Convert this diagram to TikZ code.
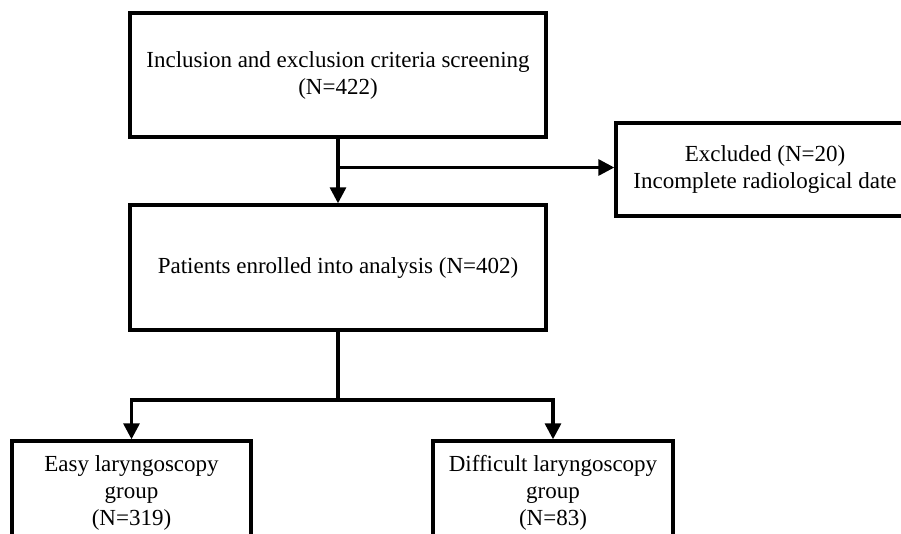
\documentclass[tikz,border=0pt]{standalone}
\usepackage{fontspec}
\setmainfont{Liberation Serif}
\usetikzlibrary{arrows.meta}
\begin{document}
\begin{tikzpicture}[x=1pt,y=-1pt,
  box/.style={draw,line width=3.4pt,align=center,inner sep=0pt,
    font=\fontsize{23}{27}\selectfont},
  conn/.style={line width=3.2pt},
  arr/.style={conn,-{Triangle[length=16pt,width=16pt]}}]
\useasboundingbox (0,0) rectangle (901,533);
\clip (0,0) rectangle (901,533);
\node[box,minimum width=416pt,minimum height=124pt] (screen) at (338,75)
  {Inclusion and exclusion criteria screening\\(N=422)};
\node[box,minimum width=416pt,minimum height=125pt] (enrol) at (338,267.5)
  {Patients enrolled into analysis (N=402)};
\node[box,minimum width=298pt,minimum height=93pt] (excl) at (765,169.5)
  {Excluded (N=20)\\Incomplete radiological date};
\node[box,minimum width=239pt,minimum height=104pt] (easy) at (131.5,493)
  {Easy laryngoscopy\\group\\(N=319)};
\node[box,minimum width=240pt,minimum height=104pt] (diff) at (553,493)
  {Difficult laryngoscopy\\group\\(N=83)};
\coordinate (j1) at (338,167.5);
\coordinate (j2) at (338,400);
\draw[arr] (screen.south) -- (enrol.north);
\draw[arr] (j1) -- (j1 -| excl.west);
\draw[conn] (enrol.south) -- (j2);
\draw[arr] (j2) -| (easy.north);
\draw[arr] (j2) -| (diff.north);
\end{tikzpicture}
\end{document}
